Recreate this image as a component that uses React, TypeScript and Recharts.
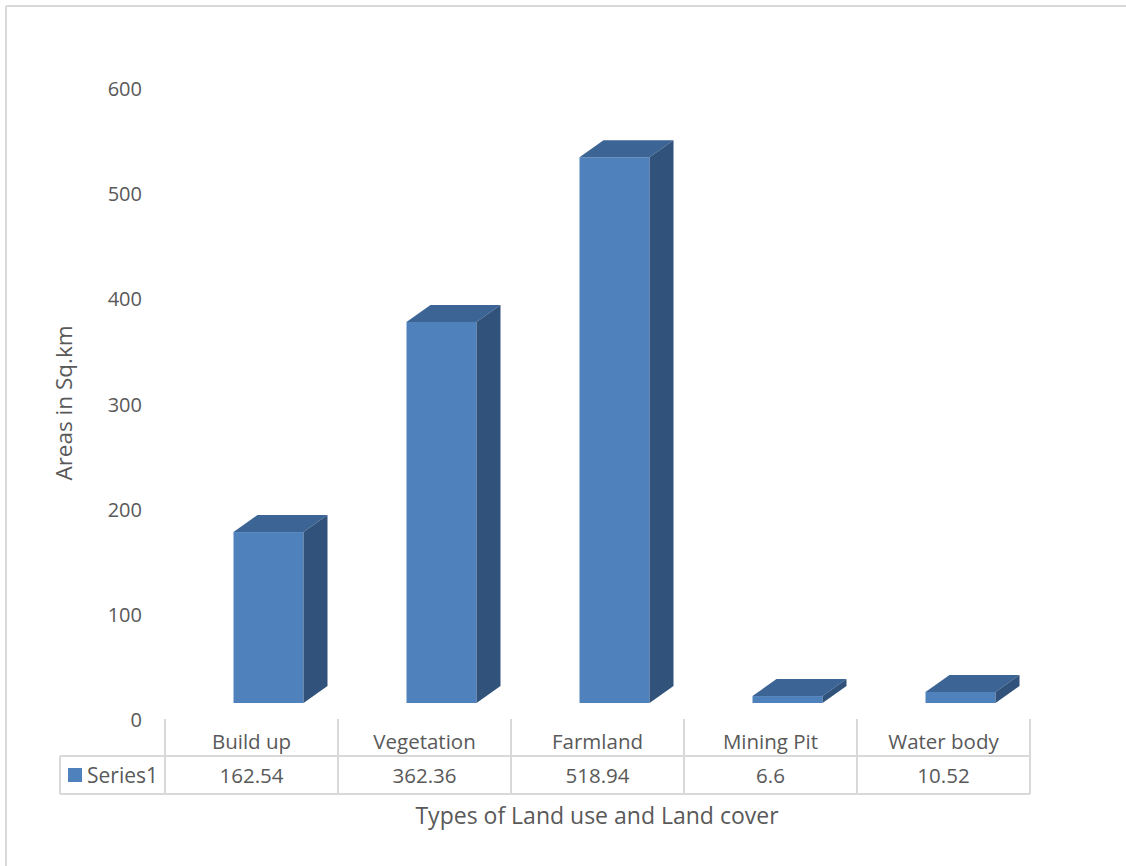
import { BarChart, Bar, XAxis, YAxis, Customized } from "recharts"

const categories = ["Build up", "Vegetation", "Farmland", "Mining Pit", "Water body"]
const areas = [162.54, 362.36, 518.94, 6.6, 10.52]
const yTicks = [0, 100, 200, 300, 400, 500, 600]
const seriesName = "Series1"

const data = categories.map((name, i) => ({ name, area: areas[i] }))

const FONT = "'Open Sans', sans-serif"
const TEXT = "#595959"
const GRID = "#d9d9d9"

// extruded column: front face, lighter top, darker side
const Column3D = (props: any) => {
  const { x, y, width, height } = props
  const cx = x + width / 2
  const dx = 24
  const dy = 17
  const lift = 17
  const x0 = cx - 18
  const x1 = x0 + 70
  const top = y - lift
  const bottom = y + height - lift
  return (
    <g>
      <rect x={x0} y={top} width={x1 - x0} height={bottom - top} fill="#4f81bd" />
      <polygon
        points={`${x0},${top} ${x0 + dx},${top - dy} ${x1 + dx},${top - dy} ${x1},${top}`}
        fill="#3c6595"
      />
      <polygon
        points={`${x1},${top} ${x1 + dx},${top - dy} ${x1 + dx},${bottom - dy} ${x1},${bottom}`}
        fill="#30527b"
      />
    </g>
  )
}

// category + value cells of the data table under the plot
const TableTick = (props: any) => {
  const { x, payload, index } = props
  const colW = 173
  const left = x - colW / 2
  return (
    <g>
      <line x1={left + colW} y1={719} x2={left + colW} y2={794} stroke={GRID} strokeWidth={2} />
      {index === 0 && <line x1={left} y1={719} x2={left} y2={794} stroke={GRID} strokeWidth={2} />}
      <text x={x} y={749} textAnchor="middle" fontFamily={FONT} fontSize={20.5} fill={TEXT}>
        {payload.value}
      </text>
      <text x={x} y={783} textAnchor="middle" fontFamily={FONT} fontSize={20.5} fill={TEXT}>
        {areas[index]}
      </text>
    </g>
  )
}

const Frame = () => (
  <g>
    <line x1={6} y1={6} x2={1126} y2={6} stroke={GRID} strokeWidth={2} />
    <line x1={6} y1={6} x2={6} y2={866} stroke={GRID} strokeWidth={2} />
    <line x1={60} y1={756} x2={1030} y2={756} stroke={GRID} strokeWidth={2} />
    <line x1={60} y1={794} x2={1030} y2={794} stroke={GRID} strokeWidth={2} />
    <line x1={60} y1={756} x2={60} y2={794} stroke={GRID} strokeWidth={2} />
    <rect x={68} y={768} width={14} height={14} fill="#4f81bd" />
    <text x={87} y={783} fontFamily={FONT} fontSize={21} fill={TEXT}>
      {seriesName}
    </text>
    <text x={597} y={824} textAnchor="middle" fontFamily={FONT} fontSize={23} fill={TEXT}>
      Types of Land use and Land cover
    </text>
    <text
      x={72}
      y={403}
      textAnchor="middle"
      fontFamily={FONT}
      fontSize={22.5}
      fill={TEXT}
      transform="rotate(-90, 72, 403)"
    >
      Areas in Sq.km
    </text>
  </g>
)

export default function App() {
  return (
    <div style={{ position: "absolute", left: 0, top: 0, background: "#fff" }}>
      <BarChart
        width={1126}
        height={866}
        data={data}
        margin={{ top: 89, right: 96, bottom: 0, left: 105 }}
        barCategoryGap={0}
      >
        <XAxis
          dataKey="name"
          axisLine={false}
          tickLine={false}
          tick={<TableTick />}
          height={146}
          interval={0}
        />
        <YAxis
          width={60}
          domain={[0, 600]}
          ticks={yTicks}
          axisLine={false}
          tickLine={false}
          tickMargin={17}
          tick={{ fontFamily: FONT, fontSize: 20, fill: TEXT }}
        />
        <Bar dataKey="area" shape={<Column3D />} isAnimationActive={false} />
        <Customized component={<Frame />} />
      </BarChart>
    </div>
  )
}
